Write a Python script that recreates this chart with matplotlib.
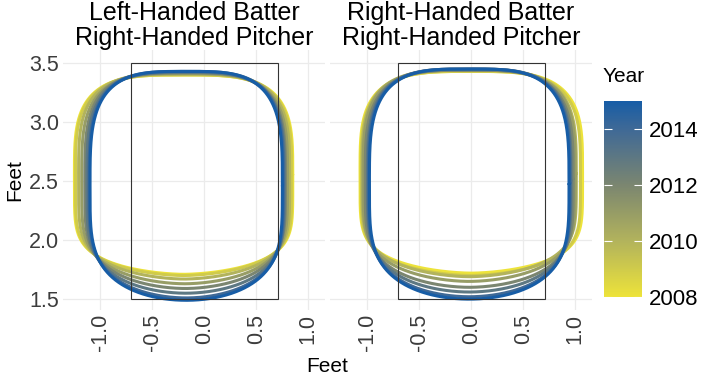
import numpy as np
import matplotlib
matplotlib.use("Agg")
import matplotlib.pyplot as plt
import matplotlib.colors as mcolors
from matplotlib.patches import Rectangle

plt.rcParams["font.family"] = ["Liberation Sans", "DejaVu Sans"]
plt.rcParams["axes.unicode_minus"] = False

# ---- data (feet) ----
years = [2008, 2009, 2010, 2011, 2012, 2013, 2014, 2015]

lhb_left = [-1.25, -1.24, -1.21, -1.18, -1.15, -1.13, -1.11, -1.10]
lhb_right = [0.85, 0.84, 0.82, 0.80, 0.78, 0.77, 0.76, 0.75]
lhb_bottom = [1.71, 1.70, 1.67, 1.63, 1.59, 1.55, 1.51, 1.49]
lhb_top = [3.40, 3.40, 3.41, 3.41, 3.42, 3.42, 3.43, 3.43]

rhb_left = [-1.07, -1.06, -1.05, -1.04, -1.02, -1.00, -0.99, -0.98]
rhb_right = [1.07, 1.05, 1.01, 1.00, 0.98, 0.96, 0.95, 0.94]
rhb_bottom = [1.72, 1.70, 1.69, 1.65, 1.60, 1.56, 1.52, 1.50]
rhb_top = [3.43, 3.43, 3.44, 3.44, 3.44, 3.45, 3.45, 3.45]

# shape of the lower edge of each contour: sag of the bottom, sharpness of its corners
bottom_sag = [1.7, 1.72, 1.76, 1.8, 1.85, 1.9, 1.95, 2.0]
bottom_corner = [5.5, 5.3, 5.0, 4.7, 4.5, 4.3, 4.1, 4.0]

zone_x = [-0.708, 0.708]
zone_y = [1.5, 3.5]

# colour bar stops
bar_years = [2008, 2010, 2012, 2014, 2015]
bar_colors = ["#EDE33A", "#B2B35C", "#7B8670", "#3F6996", "#175DA6"]

panels = [
    ("Left-Handed Batter\nRight-Handed Pitcher", lhb_left, lhb_right, lhb_bottom, lhb_top),
    ("Right-Handed Batter\nRight-Handed Pitcher", rhb_left, rhb_right, rhb_bottom, rhb_top),
]

pos = [(y - bar_years[0]) / (bar_years[-1] - bar_years[0]) for y in bar_years]
cmap = mcolors.LinearSegmentedColormap.from_list("year", list(zip(pos, bar_colors)))
norm = mcolors.Normalize(vmin=2008, vmax=2015)

fig = plt.figure(figsize=(7.08, 3.8), dpi=100)
ax_l = fig.add_axes([0.089, 0.184, 0.370, 0.684])
ax_r = fig.add_axes([0.466, 0.184, 0.370, 0.684])

t = np.linspace(0, 2 * np.pi, 1441)
c, s = np.cos(t), np.sin(t)

for ax, (title, lft, rgt, bot, top) in zip([ax_l, ax_r], panels):
    for i, yr in enumerate(years):
        cx, a = (lft[i] + rgt[i]) / 2, (rgt[i] - lft[i]) / 2
        cy, b = (bot[i] + top[i]) / 2, (top[i] - bot[i]) / 2
        p = np.where(s >= 0, 3.5, bottom_sag[i])
        q = np.where(s >= 0, 3.5, bottom_corner[i])
        xs = cx + a * np.sign(c) * np.abs(c) ** (2 / p)
        ys = cy + b * np.sign(s) * np.abs(s) ** (2 / q)
        ax.plot(xs, ys, color=cmap(norm(yr)), lw=2.2, solid_capstyle="round", zorder=3)

    ax.add_patch(Rectangle((zone_x[0], zone_y[0]), zone_x[1] - zone_x[0], zone_y[1] - zone_y[0],
                           fill=False, ec="#333333", lw=0.8, zorder=4))
    ax.set_xlim(-1.36, 1.16)
    ax.set_ylim(1.407, 3.61)
    ax.set_xticks([-1.0, -0.5, 0.0, 0.5, 1.0])
    ax.set_xticklabels(["-1.0", "-0.5", "0.0", "0.5", "1.0"], rotation=90)
    ax.set_yticks([1.5, 2.0, 2.5, 3.0, 3.5])
    ax.grid(True, color="#EBEBEB", lw=0.9, zorder=0)
    ax.set_axisbelow(True)
    for sp in ax.spines.values():
        sp.set_visible(False)
    ax.tick_params(length=0, labelsize=15.5, labelcolor="#3C3C3C", pad=3)
    ax.set_title(title, fontsize=18, pad=2, linespacing=1.05)

ax_r.set_yticklabels([])

fig.text(327 / 708, 1 - 367 / 380, "Feet", fontsize=15, ha="center", va="center")
fig.text(15 / 708, 1 - 180 / 380, "Feet", fontsize=15, ha="center", va="center", rotation=90)

# colour bar
cax = fig.add_axes([604 / 708, 1 - 297 / 380, 38 / 708, 196 / 380])
sm = plt.cm.ScalarMappable(norm=norm, cmap=cmap)
cb = fig.colorbar(sm, cax=cax, ticks=[2008, 2010, 2012, 2014])
cb.outline.set_visible(False)
cax.tick_params(which="both", direction="in", color="white", length=6, width=0.8,
                left=True, right=True, labelsize=16, labelcolor="black", pad=5)
fig.text(603 / 708, 1 - 76 / 380, "Year", fontsize=15, ha="left", va="center")

fig.savefig("out.png", dpi=100)
